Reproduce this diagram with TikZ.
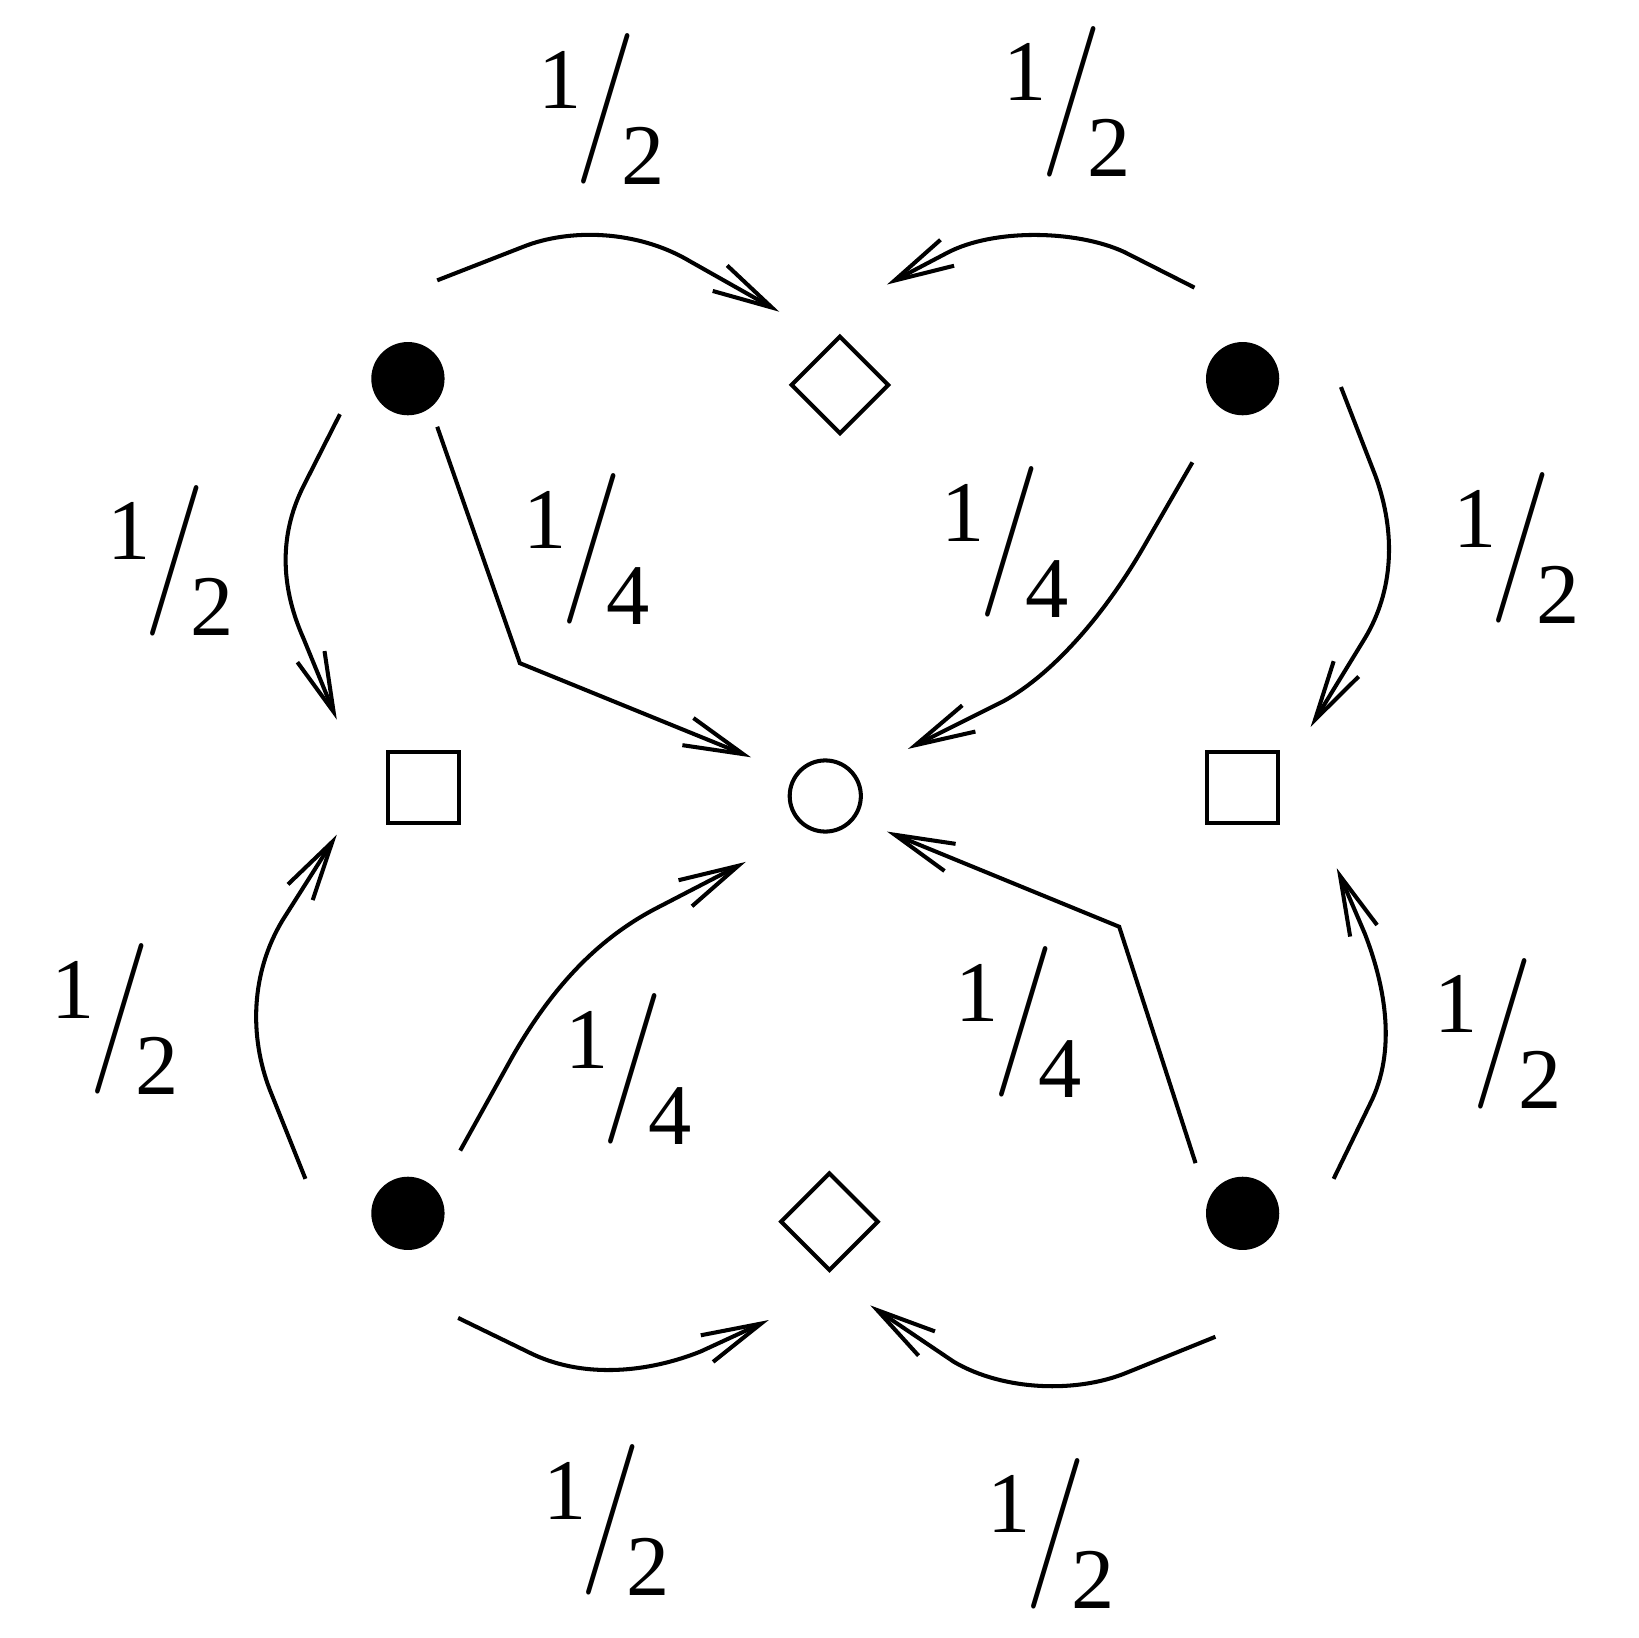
\documentclass[tikz,border=0pt]{standalone}
\usepackage{fontspec}
\setmainfont{Liberation Serif}
\newfontfamily\slashfont{Latin Modern Roman}
\usetikzlibrary{arrows.meta,shapes.geometric}

\newcommand\frc[2]{\fontsize{23.5}{23.5}\selectfont
  \raisebox{0.88em}{#1}\kern-1.5pt
  \raisebox{10.25pt}{\scalebox{0.875}[1]{\slashfont\fontsize{41}{41}\selectfont/}}\kern-4pt#2}

\begin{document}
\begin{tikzpicture}[x=0.01cm, y=-0.01cm, line width=1.1pt,
  >={Straight Barb[length=5.7mm,width=2.8mm]},
  full/.style={circle, fill, inner sep=0pt, minimum size=7mm},
  rhomb/.style={diamond, draw, inner sep=0pt, minimum width=9.4mm, minimum height=9.4mm},
  box/.style={rectangle, draw, inner sep=0pt, minimum size=6.8mm},
  ring/.style={circle, draw, inner sep=0pt, minimum size=6.8mm},
  frac/.style={inner sep=0pt}]
  \useasboundingbox (0,0) rectangle (1566,1566);

  \node[full] (P1) at (390,362) {};
  \node[full] (P2) at (1188,362) {};
  \node[full] (P3) at (390,1160) {};
  \node[full] (P4) at (1188,1160) {};
  \node[rhomb] (Q1) at (803,368) {};
  \node[rhomb] (Q2) at (793,1168) {};
  \node[box] (S1) at (405,753) {};
  \node[box] (S2) at (1188,753) {};
  \node[ring] (O) at (789,761) {};

  % halves along the rim
  \draw[->] ([shift={(28,-94)}]P1.center) -- (500,236)
    .. controls (545,218) and (610,220) .. (660,250) -- ([shift={(-58,-70)}]Q1.center);
  \draw[->] ([shift={(-46,-87)}]P2.center) -- (1075,241)
    .. controls (1030,220) and (950,218) .. (905,242) -- ([shift={(45,-96)}]Q1.center);
  \draw[->] ([shift={(-65,34)}]P1.center) -- (290,465)
    .. controls (265,515) and (270,565) .. (290,610) -- ([shift={(-83,-65)}]S1.center);
  \draw[->] ([shift={(94,8)}]P2.center) -- (1315,455)
    .. controls (1335,510) and (1332,565) .. (1305,610) -- ([shift={(65,-58)}]S2.center);
  \draw[->] ([shift={(-98,-33)}]P3.center) -- (258,1042)
    .. controls (238,990) and (240,930) .. (270,880) -- ([shift={(-83,45)}]S1.center);
  \draw[->] ([shift={(87,-33)}]P4.center) -- (1310,1055)
    .. controls (1335,1005) and (1325,945) .. (1305,893) -- ([shift={(90,77)}]S2.center);
  \draw[->] ([shift={(48,100)}]P3.center) -- (510,1295)
    .. controls (560,1318) and (620,1312) .. (670,1292) -- ([shift={(-58,94)}]Q2.center);
  \draw[->] ([shift={(-26,118)}]P4.center) -- (1078,1312)
    .. controls (1030,1332) and (960,1330) .. (912,1302) -- ([shift={(39,80)}]Q2.center);

  % quarters to the middle
  \draw[->] ([shift={(28,46)}]P1.center) -- (497,634) -- ([shift={(-71,-37)}]O.center);
  \draw[->] ([shift={(-48,80)}]P2.center) -- (1095,520)
    .. controls (1055,590) and (1005,645) .. (960,670) -- ([shift={(79,-45)}]O.center);
  \draw[->] ([shift={(50,-60)}]P3.center) -- (490,1010)
    .. controls (530,940) and (575,895) .. (630,867) -- ([shift={(-76,63)}]O.center);
  \draw[->] ([shift={(-45,-48)}]P4.center) -- (1070,886) -- ([shift={(59,34)}]O.center);

  \node[frac] (h1) at (575,104) {\frc12};
  \node[frac] (h2) at (1020,97) {\frc12};
  \node[frac] (h3) at (163,536) {\frc12};
  \node[frac] (h4) at (1450,524) {\frc12};
  \node[frac] (h5) at (110,974) {\frc12};
  \node[frac] (h6) at (1432,988) {\frc12};
  \node[frac] (h7) at (580,1453) {\frc12};
  \node[frac] (h8) at (1005,1466) {\frc12};
  \node[frac] (q1) at (561,525) {\frc14};
  \node[frac] (q2) at (961,518) {\frc14};
  \node[frac] (q3) at (601,1022) {\frc14};
  \node[frac] (q4) at (974,977) {\frc14};
\end{tikzpicture}
\end{document}
